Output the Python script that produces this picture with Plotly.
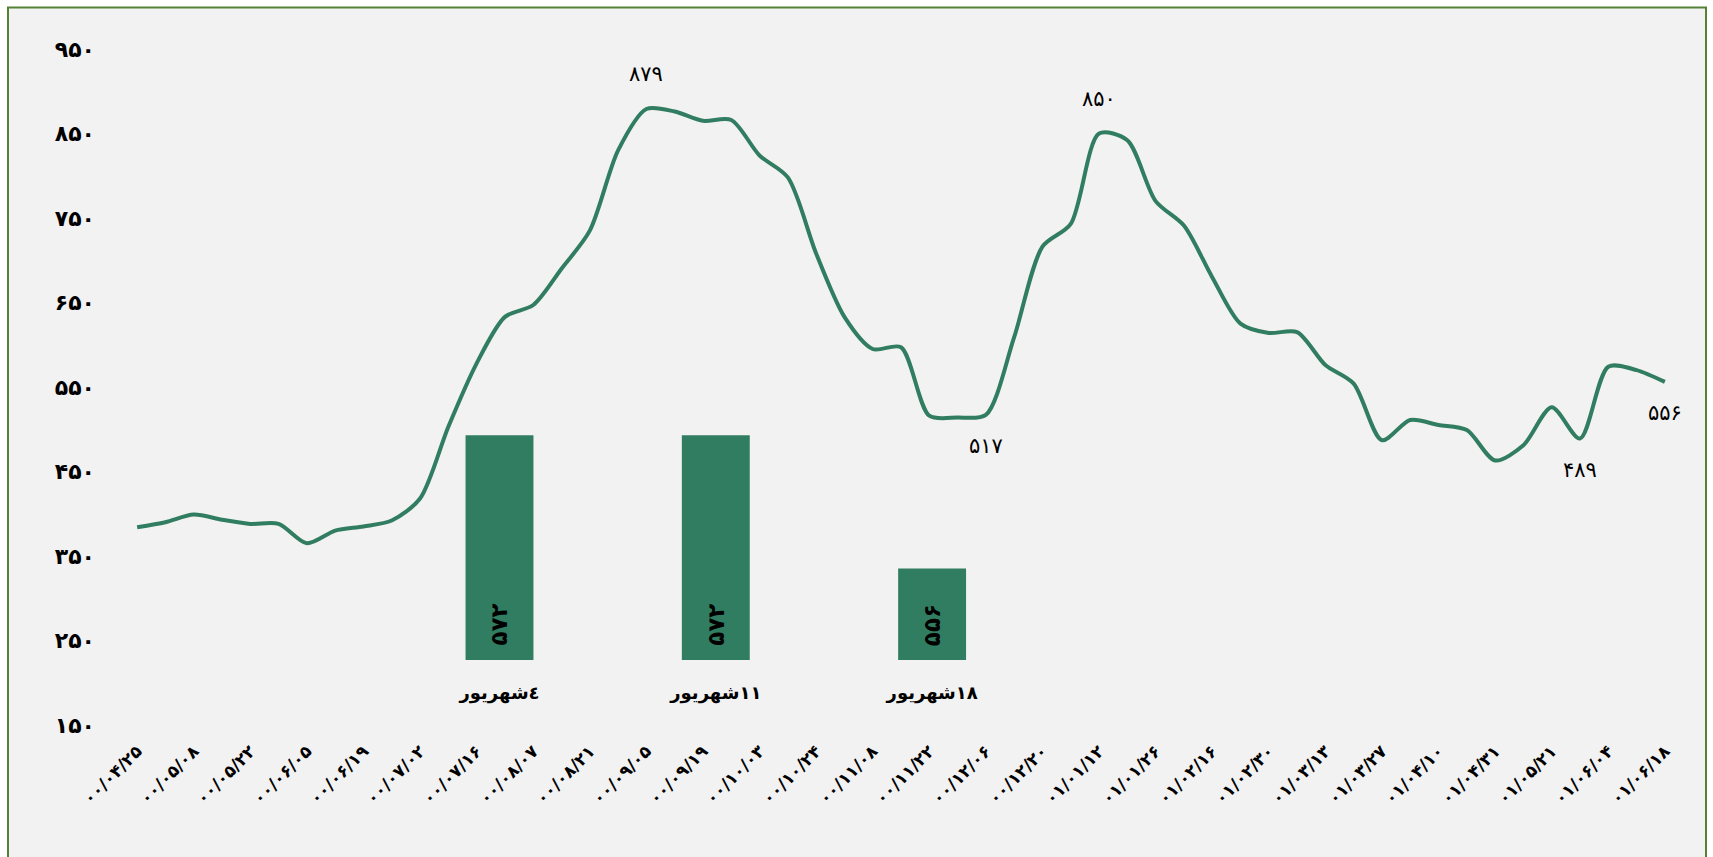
import plotly.graph_objects as go

FA_DIGITS = str.maketrans('0123456789', '۰۱۲۳۴۵۶۷۸۹')


def fa(v):
    return str(v).translate(FA_DIGITS)


# ---------------- data ----------------
date_labels = ['00/04/25', '00/05/08', '00/05/22', '00/06/05', '00/06/19', '00/07/02',
               '00/07/16', '00/08/07', '00/08/21', '00/09/05', '00/09/19', '00/10/03',
               '00/10/24', '00/11/08', '00/11/22', '00/12/06', '00/12/20', '01/01/12',
               '01/01/26', '01/02/16', '01/02/30', '01/03/13', '01/03/27', '01/04/10',
               '01/04/31', '01/05/21', '01/06/04', '01/06/18']

price = [384, 390, 399, 393, 388, 388, 365, 380, 385, 392,
         418, 503, 578, 633, 647, 690, 735, 830, 879, 876,
         865, 866, 824, 798, 708, 633, 595, 597, 516, 514,
         517, 609, 716, 743, 850, 842, 770, 741, 680, 625,
         614, 615, 576, 554, 487, 511, 505, 499, 463, 481,
         526, 489, 574, 570, 556]

labeled_points = [18, 34, 30, 51, 54]
label_above = [True, True, False, False, False]

y_ticks = [150, 250, 350, 450, 550, 650, 750, 850, 950]

bar_categories = ['٤شهریور', '١١شهریور', '١٨شهریور']
bar_values = [572, 572, 556]
bar_floor = 545

# ---------------- style ----------------
GREEN = '#317d61'
BORDER = '#548235'
BG = '#f2f2f2'
FONT = 'DejaVu Sans'

W, H = 1713, 857
L, R, T, B = 123, 34, 48.5, 132
plot_w = W - L - R
plot_h = H - T - B


def px_x(p):
    return (p - L) / plot_w


def px_y(p):
    return (H - B - p) / plot_h


x_idx = list(range(len(price)))

fig = go.Figure()

fig.add_trace(go.Scatter(
    x=x_idx, y=price, mode='lines',
    line=dict(color=GREEN, width=4, shape='spline', smoothing=0.8),
    hoverinfo='skip', showlegend=False,
))

fig.add_trace(go.Bar(
    x=bar_categories, y=bar_values, xaxis='x2', yaxis='y2',
    marker=dict(color=GREEN, line=dict(width=0)),
    width=0.314,
    cliponaxis=True, showlegend=False, hoverinfo='skip',
))

annotations = []
for i, up in zip(labeled_points, label_above):
    annotations.append(dict(
        x=i, y=price[i], xref='x', yref='y', text=fa(price[i]),
        showarrow=False, yshift=35 if up else -31,
        font=dict(family=FONT, size=21, color='black'),
    ))

# value labels written inside the bars, near their base
for cat, v in zip(bar_categories, bar_values):
    annotations.append(dict(
        x=cat, y=bar_floor, xref='x2', yref='y2', text=fa(v),
        showarrow=False, textangle=-90, xanchor='center', yanchor='bottom',
        yshift=12,
        font=dict(family=FONT, size=23, color='black', weight='bold'),
    ))

shapes = [
    dict(type='rect', xref='paper', yref='paper',
         x0=px_x(8), x1=px_x(1706), y0=px_y(7), y1=px_y(900),
         fillcolor=BG, line=dict(color=BORDER, width=2), layer='below'),
]

fig.update_layout(
    width=W, height=H,
    margin=dict(l=L, r=R, t=T, b=B, pad=0),
    paper_bgcolor='white', plot_bgcolor='rgba(0,0,0,0)',
    showlegend=False,
    shapes=shapes, annotations=annotations,
    xaxis=dict(
        range=[-0.5, len(price) - 0.5],
        tickmode='array', tickvals=x_idx[::2], ticktext=[fa(s) for s in date_labels],
        tickangle=-45, showgrid=False, zeroline=False, showline=False, ticks='',
        ticklabelstandoff=12,
        tickfont=dict(family=FONT, size=17, color='black', weight='bold'),
    ),
    yaxis=dict(
        range=[150, 950],
        tickmode='array', tickvals=y_ticks, ticktext=[fa(v) for v in y_ticks],
        showgrid=False, zeroline=False, showline=False, ticks='',
        ticklabelstandoff=27,
        tickfont=dict(family=FONT, size=22, color='black', weight='bold'),
    ),
    xaxis2=dict(
        domain=[px_x(391.35), px_x(1040.25)], anchor='y2',
        range=[-0.5, 2.5], type='category',
        showgrid=False, zeroline=False, showline=False, ticks='',
        ticklabelstandoff=20,
        tickfont=dict(family=FONT, size=18, color='black', weight='bold'),
    ),
    yaxis2=dict(
        domain=[px_y(660), px_y(410)], anchor='x2',
        range=[bar_floor, 575], visible=False,
    ),
)

fig.write_html("out.html", config={'displayModeBar': False},
               post_script="document.body.style.margin='0px';")
